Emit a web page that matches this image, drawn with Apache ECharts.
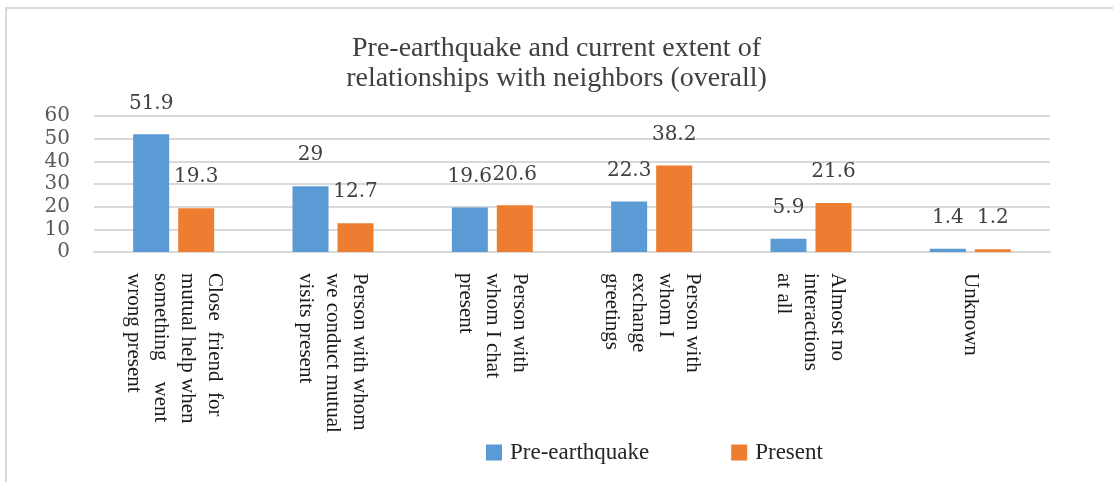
<!DOCTYPE html>
<html>
<head>
<meta charset="utf-8">
<script src="https://cdn.jsdelivr.net/npm/echarts@6/dist/echarts.min.js"></script>
<style>
html,body{margin:0;padding:0;background:#fff;}
#chart{width:1113px;height:482px;}
</style>
</head>
<body>
<div id="chart"></div>
<script>
const titleText = 'Pre-earthquake and current extent of\nrelationships with neighbors (overall)';
const categories = [
  'Close  friend  for\nmutual help when\nsomething    went\nwrong present',
  'Person with whom\nwe conduct mutual\nvisits present',
  'Person with\nwhom I chat\npresent',
  'Person with\nwhom I\nexchange\ngreetings',
  'Almost no\ninteractions\nat all',
  'Unknown'
];
const seriesNames = ['Pre-earthquake', 'Present'];
const preEarthquake = [51.9, 29, 19.6, 22.3, 5.9, 1.4];
const present = [19.3, 12.7, 20.6, 38.2, 21.6, 1.2];
const yTicks = { min: 0, max: 60, interval: 10 };

const chart = echarts.init(document.getElementById('chart'), null, { renderer: 'canvas' });
const labelStyle = {
  show: true,
  position: 'top',
  distance: 21,
  fontFamily: 'DejaVu Serif',
  fontSize: 20,
  color: '#404040'
};
chart.setOption({
  animation: false,
  backgroundColor: '#ffffff',
  graphic: [{
    type: 'rect',
    z: -10,
    shape: { x: 6, y: 8, width: 1300, height: 700 },
    style: { fill: 'none', stroke: '#d9d9d9', lineWidth: 2 }
  }],
  title: {
    text: titleText,
    left: 'center',
    top: 29,
    textStyle: {
      fontFamily: 'Liberation Serif',
      fontSize: 28,
      fontWeight: 'normal',
      color: '#404040',
      lineHeight: 30
    }
  },
  legend: {
    left: 481,
    top: 436,
    itemWidth: 16,
    itemHeight: 16,
    itemGap: 82,
    icon: 'rect',
    textStyle: {
      fontFamily: 'Liberation Serif',
      fontSize: 23,
      color: '#262626',
      padding: [0, 0, 0, 3]
    },
    data: seriesNames
  },
  grid: { left: 94, right: 63, top: 116, bottom: 230, containLabel: false },
  xAxis: {
    type: 'category',
    data: categories,
    axisTick: { show: false },
    axisLine: { lineStyle: { color: '#d9d9d9', width: 2 } },
    axisLabel: {
      interval: 0,
      rotate: -90,
      margin: 21,
      fontFamily: 'Liberation Serif',
      fontSize: 21,
      lineHeight: 27,
      color: '#1a1a1a'
    }
  },
  yAxis: {
    type: 'value',
    min: yTicks.min,
    max: yTicks.max,
    interval: yTicks.interval,
    axisLine: { show: false },
    axisTick: { show: false },
    splitLine: { lineStyle: { color: '#d9d9d9', width: 2 } },
    axisLabel: {
      margin: 24,
      fontFamily: 'DejaVu Serif',
      fontSize: 20,
      color: '#595959'
    }
  },
  series: [
    {
      name: seriesNames[0],
      type: 'bar',
      data: preEarthquake,
      barWidth: 36,
      barGap: '25%',
      itemStyle: { color: '#5B9BD5' },
      label: labelStyle
    },
    {
      name: seriesNames[1],
      type: 'bar',
      data: present,
      barWidth: 36,
      barGap: '25%',
      itemStyle: { color: '#ED7D31' },
      label: labelStyle
    }
  ]
});
</script>
</body>
</html>
